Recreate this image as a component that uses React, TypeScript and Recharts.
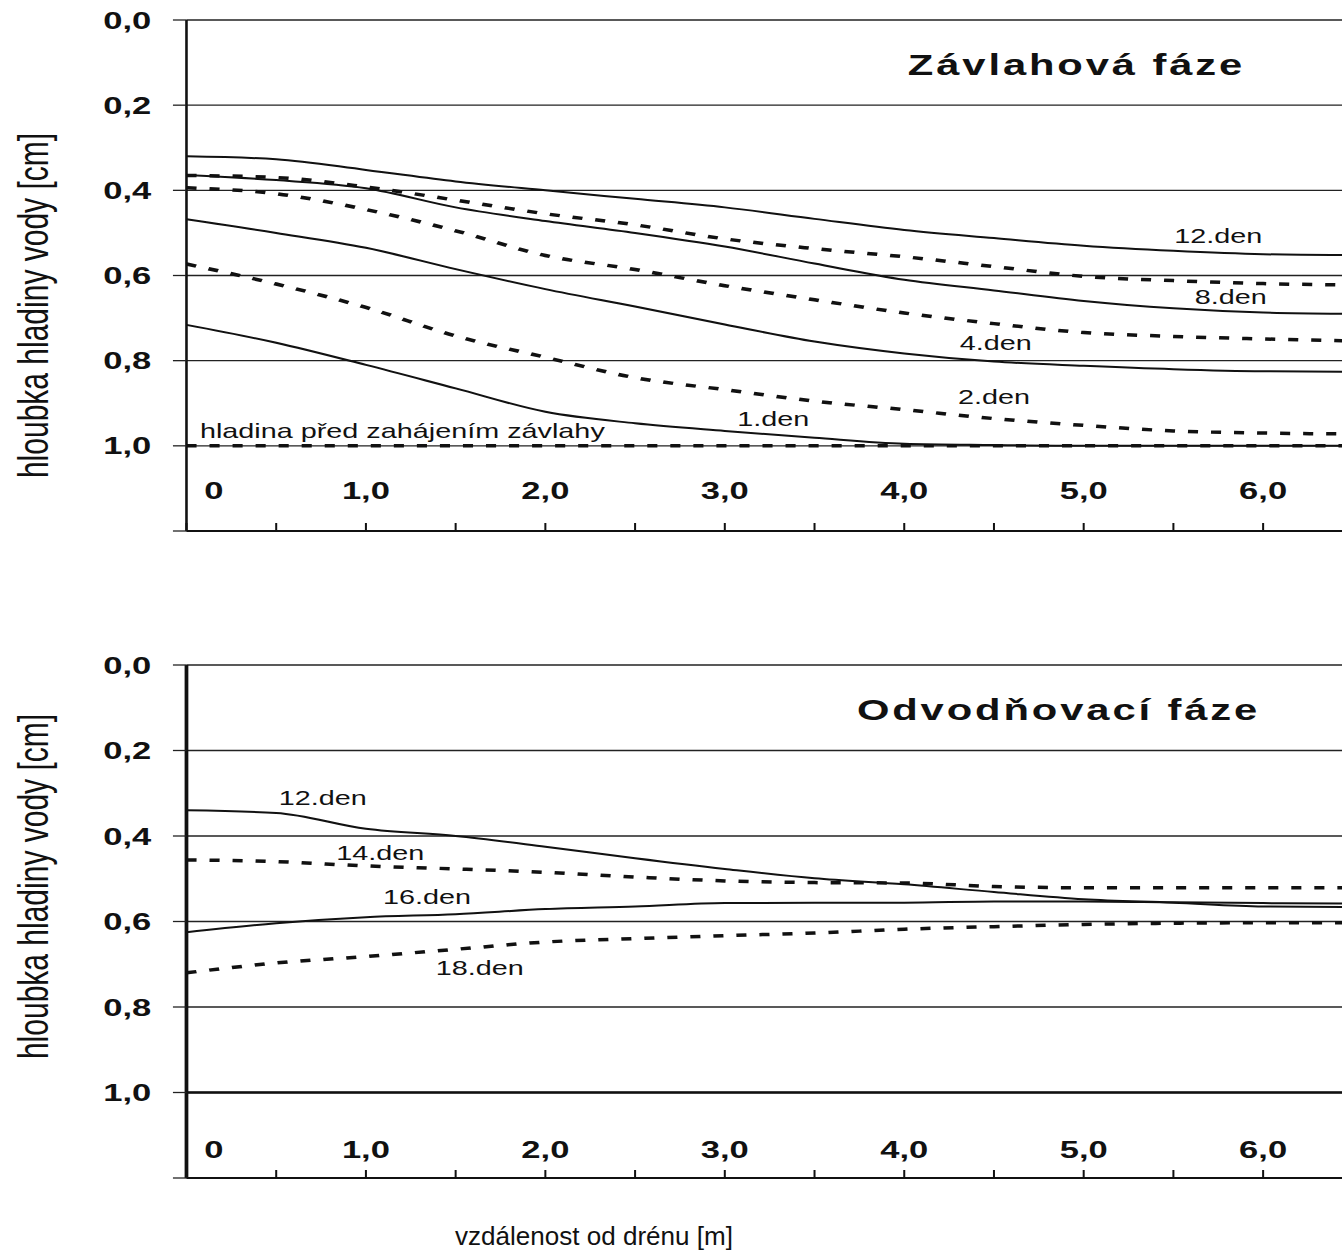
import { LineChart, Line, XAxis, YAxis, CartesianGrid, ReferenceDot, ReferenceLine } from "recharts";

const FONT = '"Liberation Sans", Arial, Helvetica, sans-serif';
// the source figure is stretched sideways, so the whole drawing is too
const STRETCH = 1.44;
const WIDTH = 932;

const distance = [0, 0.5, 1, 1.5, 2, 2.5, 3, 3.5, 4, 4.5, 5, 5.5, 6, 6.44];
const xTicks = [0, 0.5, 1, 1.5, 2, 2.5, 3, 3.5, 4, 4.5, 5, 5.5, 6];
const yTicks = [0, 0.2, 0.4, 0.6, 0.8, 1.0, 1.2];

// Závlahová fáze
const irr12 = [0.32, 0.327, 0.352, 0.379, 0.4, 0.42, 0.44, 0.467, 0.493, 0.512, 0.53, 0.542, 0.55, 0.552];
const irr10 = [0.365, 0.37, 0.392, 0.423, 0.455, 0.481, 0.514, 0.537, 0.556, 0.579, 0.602, 0.612, 0.619, 0.622];
const irr8 = [0.364, 0.376, 0.395, 0.44, 0.472, 0.5, 0.532, 0.572, 0.61, 0.635, 0.66, 0.677, 0.687, 0.69];
const irr6 = [0.394, 0.408, 0.445, 0.495, 0.553, 0.586, 0.624, 0.657, 0.688, 0.713, 0.734, 0.743, 0.749, 0.753];
const irr4 = [0.468, 0.5, 0.535, 0.585, 0.632, 0.673, 0.715, 0.755, 0.783, 0.802, 0.812, 0.82, 0.825, 0.826];
const irr2 = [0.573, 0.62, 0.675, 0.742, 0.792, 0.84, 0.868, 0.895, 0.915, 0.936, 0.952, 0.965, 0.97, 0.972];
const irr1 = [0.716, 0.758, 0.81, 0.865, 0.92, 0.947, 0.965, 0.981, 0.995, 0.998, 1.0, 1.0, 1.0, 1.0];
const irrBefore = [1.0, 1.0, 1.0, 1.0, 1.0, 1.0, 1.0, 1.0, 1.0, 1.0, 1.0, 1.0, 1.0, 1.0];

// Odvodňovací fáze
const drn12 = [0.34, 0.346, 0.383, 0.4, 0.425, 0.452, 0.477, 0.499, 0.513, 0.531, 0.548, 0.556, 0.565, 0.566];
const drn14 = [0.456, 0.46, 0.47, 0.477, 0.485, 0.496, 0.505, 0.509, 0.51, 0.518, 0.521, 0.521, 0.521, 0.521];
const drn16 = [0.625, 0.604, 0.59, 0.583, 0.571, 0.565, 0.557, 0.556, 0.556, 0.553, 0.553, 0.555, 0.557, 0.558];
const drn18 = [0.72, 0.697, 0.682, 0.665, 0.648, 0.64, 0.633, 0.627, 0.618, 0.612, 0.607, 0.604, 0.603, 0.603];

const irrData = distance.map((x, i) => ({
  x,
  d12: irr12[i],
  d10: irr10[i],
  d8: irr8[i],
  d6: irr6[i],
  d4: irr4[i],
  d2: irr2[i],
  d1: irr1[i],
  before: irrBefore[i],
}));

const drnData = distance.map((x, i) => ({
  x,
  d12: drn12[i],
  d14: drn14[i],
  d16: drn16[i],
  d18: drn18[i],
}));

const irrSeries = [
  { key: "d12", dashed: false },
  { key: "d10", dashed: true },
  { key: "d8", dashed: false },
  { key: "d6", dashed: true },
  { key: "d4", dashed: false },
  { key: "d2", dashed: true },
  { key: "d1", dashed: false },
  { key: "before", dashed: true },
];

const drnSeries = [
  { key: "d12", dashed: false },
  { key: "d14", dashed: true },
  { key: "d16", dashed: false },
  { key: "d18", dashed: true },
];

const irrNotes = [
  { text: "12.den", x: 5.75, y: 0.507 },
  { text: "8.den", x: 5.82, y: 0.65 },
  { text: "4.den", x: 4.51, y: 0.759 },
  { text: "2.den", x: 4.5, y: 0.885 },
  { text: "1.den", x: 3.27, y: 0.937 },
];

const drnNotes = [
  { text: "12.den", x: 0.76, y: 0.311 },
  { text: "14.den", x: 1.08, y: 0.44 },
  { text: "16.den", x: 1.34, y: 0.542 },
  { text: "18.den", x: 1.635, y: 0.71 },
];

function fmt(v: number) {
  return v.toFixed(1).replace(".", ",");
}

function XTick(props: any) {
  const { x, y, payload, lift } = props;
  const v = payload.value;
  if (!Number.isInteger(v)) return null;
  return (
    <text
      x={v === 0 ? x + 19 : x}
      y={y - lift}
      textAnchor="middle"
      dominantBaseline="central"
      fontSize={24}
      fontWeight={700}
      fontFamily={FONT}
      fill="#111"
    >
      {v === 0 ? "0" : fmt(v)}
    </text>
  );
}

const noteText =
  (text: string, size: number, bold = false, spacing = 0, anchor: "middle" | "start" = "middle") =>
  (p: any) => {
    const vb = p.viewBox;
    return (
      <text
        x={vb.x + (vb.width || 0) / 2}
        y={vb.y + (vb.height || 0) / 2}
        textAnchor={anchor}
        dominantBaseline="central"
        fontSize={size}
        fontWeight={bold ? 700 : 400}
        letterSpacing={spacing}
        fontFamily={FONT}
        fill="#111"
      >
        {text}
      </text>
    );
  };

const yLabel = (shift: number) => (p: any) => {
  const vb = p.viewBox;
  const cx = vb.x + 23;
  const cy = vb.y + vb.height / 2 + shift;
  return (
    <text
      x={cx}
      y={cy}
      transform={`rotate(-90 ${cx} ${cy})`}
      textAnchor="middle"
      dominantBaseline="central"
      fontSize={30}
      fontFamily={FONT}
      fill="#111"
    >
      hloubka hladiny vody [cm]
    </text>
  );
};

// this caption is not stretched in the source, so squeeze it back
const xLabel = (p: any) => {
  const vb = p.viewBox;
  return (
    <text
      x={vb.x + 283}
      y={vb.y + 58}
      textAnchor="middle"
      dominantBaseline="central"
      fontSize={26}
      textLength={193}
      lengthAdjust="spacingAndGlyphs"
      fontFamily={FONT}
      fill="#111"
    >
      vzdálenost od drénu [m]
    </text>
  );
};

interface PanelProps {
  data: any[];
  series: { key: string; dashed: boolean }[];
  notes: { text: string; x: number; y: number }[];
  title: string;
  titlePos: { x: number; y: number };
  height: number;
  top: number;
  bottom: number;
  lift: number;
  yShift: number;
  axisWidth: number;
  solidBase?: boolean;
  before?: boolean;
  showXLabel?: boolean;
}

function Panel(p: PanelProps) {
  return (
    <LineChart
      width={WIDTH}
      height={p.height}
      data={p.data}
      margin={{ top: p.top, right: 0, bottom: p.bottom, left: 0 }}
    >
      <CartesianGrid vertical={false} stroke="#222" strokeWidth={1.3} />
      <XAxis
        dataKey="x"
        type="number"
        domain={[0, 6.44]}
        ticks={xTicks}
        interval={0}
        allowDataOverflow
        height={10}
        tickSize={-8}
        tickMargin={0}
        tickLine={{ stroke: "#111", strokeWidth: 1.4 }}
        axisLine={{ stroke: "#111", strokeWidth: 2 }}
        tick={<XTick lift={p.lift} />}
        label={p.showXLabel ? { content: xLabel } : undefined}
      />
      <YAxis
        type="number"
        domain={[0, 1.2]}
        reversed
        ticks={yTicks}
        interval={0}
        width={129.5}
        tickSize={9.4}
        tickMargin={15}
        tickFormatter={(v: number) => (v > 1.1 ? "" : fmt(v))}
        tick={{ fontSize: 24, fontWeight: 700, fill: "#111", fontFamily: FONT }}
        tickLine={{ stroke: "#222", strokeWidth: 1.3 }}
        axisLine={{ stroke: "#111", strokeWidth: p.axisWidth }}
        label={{ content: yLabel(p.yShift) }}
      />
      {p.solidBase && <ReferenceLine y={1} stroke="#111" strokeWidth={2.5} />}
      {p.series.map((s) => (
        <Line
          key={s.key}
          dataKey={s.key}
          type="monotone"
          stroke="#111"
          strokeWidth={s.dashed ? 3.5 : 2}
          strokeDasharray={s.dashed ? "7 9" : undefined}
          dot={false}
          activeDot={false}
          isAnimationActive={false}
        />
      ))}
      {p.notes.map((n) => (
        <ReferenceDot
          key={n.text}
          x={n.x}
          y={n.y}
          r={0}
          fill="none"
          stroke="none"
          label={{ content: noteText(n.text, 20) }}
        />
      ))}
      {p.before && (
        <ReferenceDot
          x={0.075}
          y={0.965}
          r={0}
          fill="none"
          stroke="none"
          label={{ content: noteText("hladina před zahájením závlahy", 20, false, 0, "start") }}
        />
      )}
      <ReferenceDot
        x={p.titlePos.x}
        y={p.titlePos.y}
        r={0}
        fill="none"
        stroke="none"
        label={{ content: noteText(p.title, 29, true, 2) }}
      />
    </LineChart>
  );
}

export default function App() {
  return (
    <div
      style={{
        position: "absolute",
        left: 0,
        top: 0,
        width: WIDTH,
        transform: `scaleX(${STRETCH})`,
        transformOrigin: "0 0",
        background: "#fff",
      }}
    >
      <Panel
        data={irrData}
        series={irrSeries}
        notes={irrNotes}
        title="Závlahová fáze"
        titlePos={{ x: 4.96, y: 0.105 }}
        height={560}
        top={20}
        bottom={19}
        lift={32}
        yShift={30}
        axisWidth={1.8}
        before
      />
      <Panel
        data={drnData}
        series={drnSeries}
        notes={drnNotes}
        title="Odvodňovací fáze"
        titlePos={{ x: 4.86, y: 0.105 }}
        height={699}
        top={105}
        bottom={71}
        lift={20}
        yShift={-35}
        axisWidth={2.6}
        solidBase
        showXLabel
      />
    </div>
  );
}
